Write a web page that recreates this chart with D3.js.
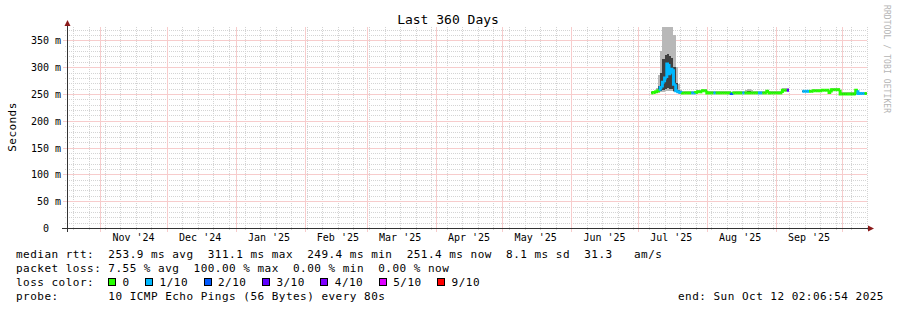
<!DOCTYPE html>
<html><head><meta charset="utf-8">
<script src="https://cdn.jsdelivr.net/npm/d3@7"></script>
<style>
html,body{margin:0;padding:0;background:#fff;}
svg{display:block;}
text{font-family:"DejaVu Sans Mono",monospace;fill:#000;}
</style>
</head><body>
<svg id="c" width="897" height="310"></svg>
<script>
// ---------------- data ----------------
const title = "Last 360 Days";
const yAxisTitle = "Seconds";
const watermark = "RRDTOOL / TOBI OETIKER";
const rangeStart = "2024-10-17T02:06:54Z";
const rangeEnd = "2025-10-12T02:06:54Z";
const firstDay = "2025-07-07T00:00:00Z"; // one value per day from here

const yTickValues = [0, 50, 100, 150, 200, 250, 300, 350];           // ms
const yTickLabels = ["0", "50 m", "100 m", "150 m", "200 m", "250 m", "300 m", "350 m"];
const xTickMonths = ["2024-11","2024-12","2025-01","2025-02","2025-03","2025-04","2025-05","2025-06","2025-07","2025-08","2025-09"];
const xTickLabels = ["Nov '24","Dec '24","Jan '25","Feb '25","Mar '25","Apr '25","May '25","Jun '25","Jul '25","Aug '25","Sep '25"];

// median rtt (ms), null = no data
const median = [
  252,253,254,256,262,272,280,306,288,296,268,256,254,253,
  252,252,252,252,252,252,253,254,254,256,256,
  252,252,252,252,252,252,252,252,252,252,252,
  251,252,252,252,252,252,252,252,252,252,252,
  252,252,252,252,252,255,252,252,252,252,252,
  252,257,257,257,
  null,null,null,null,null,null,
  255,255,255,255,255,256,256,256,256,257,257,257,
  253,258,258,258,258,250,250,250,250,250,250,
  250,257,251,251,251,251
];
// lost pings out of 10
const loss = [
  0,0,0,0,1,1,1,1,1,1,1,1,1,1,
  0,0,0,0,1,1,0,0,0,0,0,
  0,0,0,1,0,0,0,0,0,0,0,
  2,0,0,0,0,1,0,0,0,0,0,
  0,1,1,0,0,0,0,0,0,0,0,
  0,0,0,3,
  null,null,null,null,null,null,
  1,1,1,0,0,0,0,0,0,0,0,0,
  0,0,0,0,0,0,0,0,0,0,0,
  0,0,1,1,1,0
];
// smoke: ping spread (ms)
const pingMax = [
  255,256,262,285,330,400,400,400,400,400,360,300,268,258,
  255,255,255,256,255,255,257,258,257,259,259,
  255,255,255,255,255,255,255,255,255,255,255,
  254,255,256,256,256,256,258,259,259,258,256,
  255,255,255,255,255,258,255,255,255,255,255,
  256,261,261,262,
  null,null,null,null,null,null,
  258,258,258,258,258,259,259,259,259,260,260,260,
  257,261,261,261,261,253,253,253,253,253,253,
  253,260,254,254,254,254
];
const pingHigh = [
  253,254,256,264,290,315,322,325,320,318,300,270,258,255,
  253,253,253,253,253,253,254,255,255,257,257,
  253,253,253,253,253,253,253,253,253,253,253,
  252,253,253,253,253,253,254,255,255,254,253,
  253,253,253,253,253,256,253,253,253,253,253,
  253,258,258,258,
  null,null,null,null,null,null,
  256,256,256,256,256,257,257,257,257,258,258,258,
  254,259,259,259,259,251,251,251,251,251,251,
  251,258,252,252,252,252
];
const pingLow = [
  251,252,252,253,255,258,260,262,260,259,256,253,252,251,
  251,251,251,251,251,251,252,253,253,255,255,
  251,251,251,251,251,251,251,251,251,251,251,
  250,251,251,251,251,251,251,251,251,251,251,
  251,251,251,251,251,254,251,251,251,251,251,
  251,256,256,256,
  null,null,null,null,null,null,
  254,254,254,254,254,255,255,255,255,256,256,256,
  252,257,257,257,257,249,249,249,249,249,249,
  249,256,250,250,250,250
];
const pingMin = [
  250,251,251,252,253,254,255,255,255,255,253,251,250,250,
  250,250,250,250,250,250,251,252,252,254,254,
  250,250,250,250,250,250,250,250,250,250,250,
  249,250,250,250,250,250,250,250,250,250,250,
  250,250,250,250,250,253,250,250,250,250,250,
  250,255,255,255,
  null,null,null,null,null,null,
  253,253,253,253,253,254,254,254,254,255,255,255,
  251,256,256,256,256,248,248,248,248,248,248,
  248,255,249,249,249,249
];

const lossLabels = ["0","1/10","2/10","3/10","4/10","5/10","9/10"];
const lossThresholds = [0,1,2,3,4,5,9];
const lossColors = ["#26ff00","#00b8ff","#0059ff","#5e00ff","#7e00ff","#dd00ff","#ff0000"];

const legendRtt = "median rtt:  253.9 ms avg  311.1 ms max  249.4 ms min  251.4 ms now  8.1 ms sd  31.3   am/s";
const legendLoss = "packet loss: 7.55 % avg  100.00 % max  0.00 % min  0.00 % now";
const legendLossTitle = "loss color:";
const legendProbe = "probe:       10 ICMP Echo Pings (56 Bytes) every 80s";
const legendEnd = "end: Sun Oct 12 02:06:54 2025";

// ---------------- chart ----------------
const svg = d3.select("#c");
const L = 67, R = 867, T = 27, B = 228;
const t0 = new Date(rangeStart), t1 = new Date(rangeEnd);
const x = d3.scaleUtc().domain([t0, t1]).range([L, R]);
const y = d3.scaleLinear().domain([0, 375]).range([B, T]);
const crisp = v => Math.round(v) + 0.5;

const minorCol = "#d4d4d4", majorCol = "#f7cccc", axisCol = "#333", arrowCol = "#8b1a1a";

// grid
const gMinor = svg.append("g").attr("shape-rendering", "crispEdges");
const yMinor = d3.range(10, 375, 10).filter(v => v % 50 !== 0);
gMinor.selectAll("line.hm").data(yMinor).join("line").attr("class", "hm")
  .attr("x1", L - 2).attr("x2", R).attr("y1", d => crisp(y(d))).attr("y2", d => crisp(y(d)))
  .attr("stroke", minorCol).attr("stroke-dasharray", "1,1");
gMinor.selectAll("line.vm").data(d3.utcSunday.range(t0, t1)).join("line").attr("class", "vm")
  .attr("x1", d => crisp(x(d))).attr("x2", d => crisp(x(d))).attr("y1", T).attr("y2", B + 3)
  .attr("stroke", minorCol).attr("stroke-dasharray", "1,1");
const gMajor = svg.append("g").attr("shape-rendering", "crispEdges");
gMajor.selectAll("line.hM").data(yTickValues.slice(1)).join("line").attr("class", "hM")
  .attr("x1", L - 4).attr("x2", R).attr("y1", d => crisp(y(d))).attr("y2", d => crisp(y(d)))
  .attr("stroke", majorCol).attr("stroke-width", 1);
gMajor.selectAll("line.vM").data(d3.utcMonth.range(t0, t1)).join("line").attr("class", "vM")
  .attr("x1", d => crisp(x(d))).attr("x2", d => crisp(x(d))).attr("y1", T).attr("y2", B + 4)
  .attr("stroke", majorCol).attr("stroke-width", 1);

// data
svg.append("clipPath").attr("id", "plot").append("rect")
  .attr("x", L).attr("y", T).attr("width", R - L).attr("height", B - T);
const start = new Date(firstDay);
const recs = median.map((m, i) => ({
  d0: d3.utcDay.offset(start, i), d1: d3.utcDay.offset(start, i + 1),
  med: m, loss: loss[i], mn: pingMin[i], lo: pingLow[i], hi: pingHigh[i], mx: pingMax[i]
}));
const valid = recs.filter(r => r.med != null);
const dataG = svg.append("g").attr("clip-path", "url(#plot)");
const smoke = dataG.append("g").attr("shape-rendering", "crispEdges");
smoke.selectAll("rect.so").data(valid).join("rect").attr("class", "so")
  .attr("x", r => x(r.d0)).attr("width", r => x(r.d1) - x(r.d0))
  .attr("y", r => y(r.mx)).attr("height", r => y(r.mn) - y(r.mx))
  .attr("fill", "#b8b8b8");
smoke.selectAll("rect.si").data(valid).join("rect").attr("class", "si")
  .attr("x", r => x(r.d0)).attr("width", r => x(r.d1) - x(r.d0))
  .attr("y", r => y(r.hi)).attr("height", r => y(r.lo) - y(r.hi))
  .attr("fill", "#404040");

function lossColor(l) {
  let c = lossColors[0];
  lossThresholds.forEach((t, k) => { if (l >= t) c = lossColors[k]; });
  return c;
}
const lineG = dataG.append("g");
recs.forEach((r, i) => {
  if (r.med == null) return;
  const prev = i > 0 ? recs[i - 1] : null;
  const xa = x(r.d0), xb = x(r.d1), ym = y(r.med);
  let p = "";
  if (prev && prev.med != null) p = `M${xa},${y(prev.med)}V${ym}H${xb}`;
  else p = `M${xa},${ym}H${xb}`;
  lineG.append("path").attr("d", p).attr("fill", "none")
    .attr("stroke", lossColor(r.loss)).attr("stroke-width", 3);
});

// axes
const ax = svg.append("g").attr("shape-rendering", "crispEdges");
ax.append("line").attr("x1", L - 5).attr("x2", R + 2).attr("y1", crisp(B)).attr("y2", crisp(B)).attr("stroke", axisCol);
ax.append("line").attr("x1", L + 0.5).attr("x2", L + 0.5).attr("y1", B + 4).attr("y2", T - 4).attr("stroke", axisCol);
svg.append("path").attr("d", `M${R + 1},${B - 2.5}L${R + 7},${B + 0.5}L${R + 1},${B + 3.5}Z`).attr("fill", arrowCol);
svg.append("path").attr("d", `M${L - 2.5},${T - 1}L${L + 0.5},${T - 7}L${L + 3.5},${T - 1}Z`).attr("fill", arrowCol);

// y tick labels
svg.selectAll("text.yl").data(yTickValues).join("text").attr("class", "yl")
  .attr("x", (d, i) => yTickLabels[i].endsWith(" m") ? 61 : 61 - 12)
  .attr("y", d => crisp(y(d)) + 3.5)
  .attr("text-anchor", "end").attr("font-size", "10px")
  .text((d, i) => yTickLabels[i]);

// x tick labels (centered mid-month)
svg.selectAll("text.xl").data(xTickMonths).join("text").attr("class", "xl")
  .attr("x", d => x(d3.utcDay.offset(new Date(d + "-01T00:00:00Z"), 15)))
  .attr("y", 241).attr("text-anchor", "middle").attr("font-size", "10px")
  .text((d, i) => xTickLabels[i]);

// titles
svg.append("text").attr("x", 448).attr("y", 24).attr("text-anchor", "middle")
  .attr("font-size", "13px").text(title);
svg.append("text").attr("transform", "translate(15.5,127) rotate(-90)").attr("text-anchor", "middle")
  .attr("font-size", "11px").attr("letter-spacing", "0.45px").text(yAxisTitle);
svg.append("text").attr("transform", "translate(884,5) rotate(90)")
  .attr("font-size", "8px").style("fill", "#b4b4b4").attr("letter-spacing", "0.1px").text(watermark);

// legend
const lg = svg.append("g").attr("font-size", "11px").attr("letter-spacing", "0.48px");
const pre = s => s.replace(/ /g, "\u00a0");
lg.append("text").attr("x", 16).attr("y", 258).text(pre(legendRtt));
lg.append("text").attr("x", 16).attr("y", 272).text(pre(legendLoss));
lg.append("text").attr("x", 16).attr("y", 286).text(pre(legendLossTitle));
lg.append("text").attr("x", 16).attr("y", 300).text(pre(legendProbe));
lg.append("text").attr("x", 678).attr("y", 300).text(pre(legendEnd));
let sx = 108;
lossLabels.forEach((lab, k) => {
  svg.append("rect").attr("x", sx + 0.5).attr("y", 278.5).attr("width", 7).attr("height", 7)
    .attr("fill", lossColors[k]).attr("stroke", "#000").attr("shape-rendering", "crispEdges");
  const lx = sx + 14.5;
  lg.append("text").attr("x", lx).attr("y", 286).text(lab);
  sx = lx + lab.length * 7.1 + 15.5;
});
</script>
</body></html>
